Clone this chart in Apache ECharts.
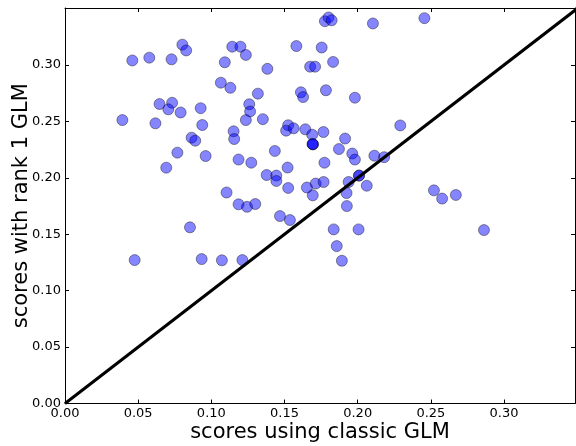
<!DOCTYPE html>
<html>
<head>
<meta charset="utf-8">
<script src="https://cdn.jsdelivr.net/npm/echarts@6/dist/echarts.min.js"></script>
<style>
html,body{margin:0;padding:0;background:#fff;}
#chart{width:576px;height:446px;}
</style>
</head>
<body>
<div id="chart"></div>
<script>
// scores using classic GLM (x) and scores with rank 1 GLM (y)
const classicScores = [
0.0392,0.0460,0.0576,0.0728,0.0802,0.0828,0.0618,0.0646,0.0732,0.0706,
0.0790,0.0692,0.0768,0.0865,0.0890,0.0961,0.0927,0.0938,0.1065,0.1130,
0.1092,0.1143,0.1199,0.1236,0.1318,0.1383,0.1259,0.1265,0.1236,0.1352,
0.1152,0.1156,0.1434,0.1186,0.1273,0.1104,0.1186,0.1244,0.1300,0.1378,
0.1444,0.1444,0.1521,0.1525,0.1653,0.1713,0.1693,0.1581,0.1675,0.1709,
0.1612,0.1627,0.1525,0.1511,0.1562,0.1642,0.1689,0.1693,0.1695,0.1691,
0.1754,0.1776,0.1801,0.1822,0.2104,0.2456,0.1832,0.1783,0.1981,0.1766,
0.1914,0.2291,0.1872,0.1963,0.1981,0.1773,0.2114,0.2181,0.2008,0.2010,
0.1938,0.2062,0.1924,0.1926,0.1767,0.2521,0.2577,0.2671,0.2863,0.0854,
0.1469,0.1537,0.1836,0.2006,0.1857,0.1892,0.0476,0.0934,0.1072,0.1212
];
const rank1Scores = [
0.2512,0.3040,0.3065,0.3050,0.3180,0.3129,0.2483,0.2654,0.2665,0.2607,
0.2579,0.2090,0.2223,0.2356,0.2329,0.2193,0.2617,0.2468,0.2843,0.2798,
0.3024,0.3162,0.3162,0.3089,0.2746,0.2966,0.2652,0.2588,0.2512,0.2520,
0.2412,0.2344,0.2238,0.2162,0.2134,0.1870,0.1765,0.1743,0.1768,0.2025,
0.2020,0.1972,0.2091,0.1910,0.1914,0.1949,0.1845,0.3168,0.2985,0.2985,
0.2758,0.2716,0.2466,0.2418,0.2439,0.2430,0.2382,0.2298,0.2296,0.2300,
0.3155,0.3388,0.3421,0.3396,0.3368,0.3415,0.3027,0.2776,0.2710,0.2406,
0.2348,0.2464,0.2255,0.2215,0.2162,0.2134,0.2196,0.2183,0.2019,0.2021,
0.1963,0.1930,0.1865,0.1750,0.1963,0.1889,0.1816,0.1848,0.1537,0.1561,
0.1661,0.1626,0.1543,0.1543,0.1395,0.1265,0.1271,0.1280,0.1269,0.1271
];
const identityLine = [[0, 0], [0.35, 0.35]];
const tickLabels = ['0.00','0.05','0.10','0.15','0.20','0.25','0.30'];
const xTitle = 'scores using classic GLM';
const yTitle = 'scores with rank 1 GLM';

const points = classicScores.map((x, i) => [x, rank1Scores[i]]);
const X_MAX = 0.3485, Y_MAX = 0.3505;
const font = 'DejaVu Sans';
function fmt(v){
  const k = Math.round(v / 0.05);
  if (Math.abs(v - k * 0.05) > 1e-6 || k >= tickLabels.length) return '';
  return tickLabels[k];
}
const baseAxis = {
  type: 'value', min: 0, interval: 0.05,
  splitLine: {show: false},
  axisLine: {show: true, onZero: false, lineStyle: {color: '#000', width: 1}},
  axisTick: {show: true, inside: true, length: 4, lineStyle: {color: '#000', width: 1}},
};
const chart = echarts.init(document.getElementById('chart'), null, {renderer: 'canvas'});
chart.setOption({
  animation: false,
  backgroundColor: '#fff',
  grid: {left: 65, top: 8, width: 510, height: 395.5, containLabel: false, outerBoundsMode: 'none'},
  xAxis: [
    Object.assign({}, baseAxis, {
      max: X_MAX, position: 'bottom',
      name: xTitle, nameLocation: 'middle', nameGap: 19, nameMoveOverlap: false,
      nameTextStyle: {fontFamily: font, fontSize: 21, color: '#000'},
      axisLabel: {show: true, showMaxLabel: false, margin: 4, fontFamily: font, fontSize: 13, color: '#000', formatter: fmt}
    }),
    Object.assign({}, baseAxis, {max: X_MAX, position: 'top', axisLabel: {show: false}})
  ],
  yAxis: [
    Object.assign({}, baseAxis, {
      max: Y_MAX, position: 'left',
      name: yTitle, nameLocation: 'middle', nameGap: 33, nameMoveOverlap: false,
      nameTextStyle: {fontFamily: font, fontSize: 21, color: '#000'},
      axisLabel: {show: true, showMaxLabel: false, margin: 4, fontFamily: font, fontSize: 13, color: '#000', formatter: fmt}
    }),
    Object.assign({}, baseAxis, {max: Y_MAX, position: 'right', axisLabel: {show: false}})
  ],
  series: [
    {
      type: 'scatter', data: points, symbol: 'circle', symbolSize: 11,
      xAxisIndex: 0, yAxisIndex: 0,
      itemStyle: {color: 'rgba(0,0,255,0.6)', borderColor: 'rgba(0,0,0,0.5)', borderWidth: 1}
    },
    {
      type: 'line', data: identityLine, showSymbol: false, symbol: 'none',
      xAxisIndex: 0, yAxisIndex: 0, clip: true, z: 3,
      lineStyle: {color: '#000', width: 3}
    }
  ]
});
</script>
</body>
</html>
